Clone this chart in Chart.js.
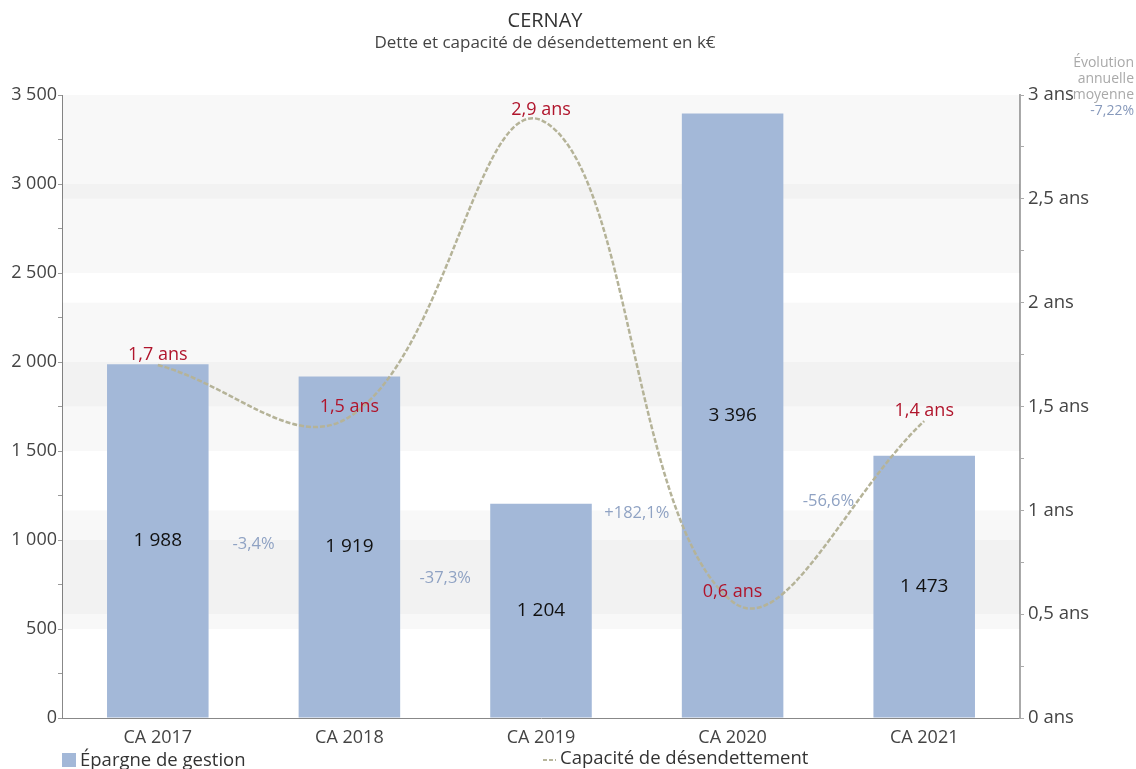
<!DOCTYPE html>
<html><head><meta charset="utf-8">
<script src="https://cdn.jsdelivr.net/npm/chart.js@4.4.1/dist/chart.umd.min.js"></script>
<style>html,body{margin:0;padding:0;background:#fff;}canvas{display:block}</style>
</head><body><canvas id="c" width="1136" height="769"></canvas>
<script>
const categories = ['CA 2017','CA 2018','CA 2019','CA 2020','CA 2021'];
const epargne = [1988, 1919, 1204, 3396, 1473];
const epargneLabels = ['1 988','1 919','1 204','3 396','1 473'];
const capacite = [1.70, 1.45, 2.88, 0.56, 1.43];
const capaciteLabels = ['1,7 ans','1,5 ans','2,9 ans','0,6 ans','1,4 ans'];
const variationLabels = ['-3,4%','-37,3%','+182,1%','-56,6%'];
const evolutionLines = ['Évolution','annuelle','moyenne'];
const evolutionValue = '-7,22%';
const leftAxis = {min:0, max:3500, step:500, minor:250};
const rightAxis = {min:0, max:3, step:0.5, minor:0.25};
const titleText = 'CERNAY';
const subtitleText = 'Dette et capacité de désendettement en k€';
const legendBar = 'Épargne de gestion';
const legendLine = 'Capacité de désendettement';

const FONT = "'Open Sans', 'DejaVu Sans', sans-serif";
const fmtThousands = v => String(v).replace(/\B(?=(\d{3})+(?!\d))/g, ' ');
const fmtAns = v => String(v).replace('.', ',') + ' ans';

const bandsPlugin = {
  id: 'bands',
  beforeDatasetsDraw(chart) {
    const ctx = chart.ctx, a = chart.chartArea;
    ctx.save();
    ctx.fillStyle = 'rgba(0,0,0,0.028)';
    [['y', leftAxis], ['y1', rightAxis]].forEach(([id, ax]) => {
      const s = chart.scales[id];
      let i = 0;
      for (let v = ax.min; v < ax.max - 1e-9; v += ax.step, i++) {
        if (i % 2 === 1) {
          const y1 = s.getPixelForValue(v), y2 = s.getPixelForValue(v + ax.step);
          ctx.fillRect(a.left, y2, a.right - a.left, y1 - y2);
        }
      }
    });
    ctx.restore();
  }
};

const labelsPlugin = {
  id: 'labels',
  afterDatasetsDraw(chart) {
    const ctx = chart.ctx;
    const bars = chart.getDatasetMeta(0).data;
    const pts = chart.getDatasetMeta(1).data;
    ctx.save();
    ctx.textAlign = 'center';
    ctx.textBaseline = 'middle';
    ctx.font = '19px ' + FONT;
    ctx.fillStyle = '#111';
    bars.forEach((b, i) => {
      ctx.fillText(epargneLabels[i], b.x, (b.y + b.base) / 2);
    });
    ctx.font = '16.5px ' + FONT;
    ctx.fillStyle = '#8fa2c3';
    for (let i = 0; i < bars.length - 1; i++) {
      const m1 = (bars[i].y + bars[i].base) / 2, m2 = (bars[i+1].y + bars[i+1].base) / 2;
      ctx.fillText(variationLabels[i], (bars[i].x + bars[i+1].x) / 2, (m1 + m2) / 2);
    }
    ctx.font = '18px ' + FONT;
    ctx.fillStyle = '#b0152c';
    pts.forEach((p, i) => {
      ctx.fillText(capaciteLabels[i], p.x, p.y - 10);
    });
    ctx.restore();
  },
  afterDraw(chart) {
    const ctx = chart.ctx, a = chart.chartArea;
    ctx.save();
    ctx.textAlign = 'center';
    ctx.textBaseline = 'middle';
    const cx = (a.left + a.right) / 2 + 4;
    ctx.fillStyle = '#333';
    ctx.font = '20px ' + FONT;
    ctx.fillText(titleText, cx, 21);
    ctx.fillStyle = '#444';
    ctx.font = '17px ' + FONT;
    ctx.fillText(subtitleText, cx, 43);
    ctx.textAlign = 'right';
    ctx.font = '14px ' + FONT;
    ctx.fillStyle = '#a9a9a9';
    evolutionLines.forEach((t, i) => ctx.fillText(t, 1134, 63 + i * 16));
    ctx.fillStyle = '#8799bb';
    ctx.fillText(evolutionValue, 1134, 111);
    ctx.textAlign = 'left';
    ctx.fillStyle = '#a3b8d8';
    ctx.fillRect(62, 753, 14, 14);
    ctx.fillStyle = '#333';
    ctx.font = '18.5px ' + FONT;
    ctx.fillText(legendBar, 80, 761);
    ctx.strokeStyle = '#b7b59c';
    ctx.lineWidth = 2;
    ctx.setLineDash([4, 2]);
    ctx.beginPath();
    ctx.moveTo(543, 760); ctx.lineTo(556, 760);
    ctx.stroke();
    ctx.setLineDash([]);
    ctx.fillText(legendLine, 560, 759);
    ctx.restore();
  }
};

new Chart(document.getElementById('c'), {
  data: {
    labels: categories,
    datasets: [
      {
        type: 'bar', label: legendBar, data: epargne, yAxisID: 'y',
        backgroundColor: '#a3b8d8', barPercentage: 0.53, categoryPercentage: 1, order: 1
      },
      {
        type: 'line', label: legendLine, data: capacite, yAxisID: 'y1',
        borderColor: '#b5b398', borderWidth: 2.5, borderDash: [5, 2], tension: 0.4,
        pointRadius: 0, fill: false, order: 0
      }
    ]
  },
  options: {
    responsive: false,
    animation: false,
    layout: { padding: { top: 95, left: 0, right: 0, bottom: 0 } },
    plugins: { legend: { display: false }, tooltip: { enabled: false }, title: { display: false } },
    scales: {
      x: {
        grid: { display: false },
        border: { display: true, color: '#888', width: 1 },
        ticks: { color: '#444', font: { family: FONT, size: 18 }, padding: 1 },
        afterFit(s) { s.height = 51; }
      },
      y: {
        position: 'left', min: leftAxis.min, max: leftAxis.max,
        grid: { drawOnChartArea: false, tickLength: 4, color: '#999' },
        border: { display: true, color: '#888', width: 1 },
        ticks: {
          stepSize: leftAxis.minor, color: '#444', font: { family: FONT, size: 18 }, padding: 1,
          callback: v => (v % leftAxis.step === 0 ? fmtThousands(v) : '')
        },
        afterFit(s) { s.width = 62; }
      },
      y1: {
        position: 'right', min: rightAxis.min, max: rightAxis.max,
        grid: { drawOnChartArea: false, tickLength: 4, color: '#aaa' },
        border: { display: true, color: '#aaa', width: 2 },
        ticks: {
          stepSize: rightAxis.minor, color: '#444', font: { family: FONT, size: 18.5 }, padding: 4,
          callback: v => (Math.abs(v / rightAxis.step - Math.round(v / rightAxis.step)) < 1e-9 ? fmtAns(v) : '')
        },
        afterFit(s) { s.width = 116; }
      }
    }
  },
  plugins: [bandsPlugin, labelsPlugin]
});
</script>
</body></html>
